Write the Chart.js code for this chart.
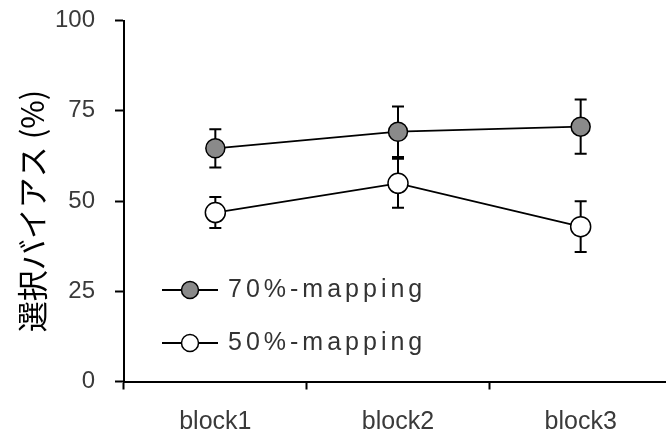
<!DOCTYPE html>
<html>
<head>
<meta charset="utf-8">
<script src="https://cdn.jsdelivr.net/npm/chart.js@4/dist/chart.umd.min.js"></script>
<style>
  html, body { margin: 0; padding: 0; background: #fff; overflow: hidden; }
  #wrap { width: 666px; height: 439px; overflow: hidden; position: relative; }
  canvas { display: block; }
</style>
</head>
<body>
<div id="wrap"><canvas id="c" width="672" height="439" style="width:672px;height:439px"></canvas></div>
<script>
const categories = ['block1', 'block2', 'block3'];
const series70 = [64.6, 69.2, 70.6];
const err70 = [5.3, 7.0, 7.5];
const series50 = [46.8, 54.9, 42.9];
const err50 = [4.3, 6.8, 7.0];
const yTickValues = [0, 25, 50, 75, 100];
const seriesNames = ['70%-mapping', '50%-mapping'];
const yTitle = '選択バイアス (%)';

const errors = [err70, err50];

const errorBarPlugin = {
  id: 'errorBars',
  beforeDatasetsDraw(chart) {
    const ctx = chart.ctx;
    const yScale = chart.scales.y;
    ctx.save();
    ctx.strokeStyle = '#000';
    ctx.lineWidth = 2;
    chart.data.datasets.forEach((ds, di) => {
      const meta = chart.getDatasetMeta(di);
      meta.data.forEach((pt, i) => {
        const v = ds.data[i];
        const e = errors[di][i];
        const yt = yScale.getPixelForValue(v + e);
        const yb = yScale.getPixelForValue(v - e);
        const x = pt.x;
        ctx.beginPath();
        ctx.moveTo(x, yt); ctx.lineTo(x, yb);
        ctx.moveTo(x - 6, yt); ctx.lineTo(x + 6, yt);
        ctx.moveTo(x - 6, yb); ctx.lineTo(x + 6, yb);
        ctx.stroke();
      });
    });
    ctx.restore();
  }
};

const extrasPlugin = {
  id: 'extras',
  afterDraw(chart) {
    const ctx = chart.ctx;
    ctx.save();
    ctx.translate(32, 211);
    ctx.rotate(-Math.PI / 2);
    ctx.fillStyle = '#000';
    ctx.font = '31px "Noto Sans CJK JP"';
    ctx.textAlign = 'center';
    ctx.textBaseline = 'middle';
    ctx.fillText(yTitle, 0, 0);
    ctx.restore();

    const items = [
      { y: 290, fill: '#8a8a8a' },
      { y: 343, fill: '#ffffff' }
    ];
    items.forEach((it, k) => {
      ctx.save();
      ctx.strokeStyle = '#000';
      ctx.lineWidth = 1.8;
      ctx.beginPath();
      ctx.moveTo(162, it.y); ctx.lineTo(218, it.y);
      ctx.stroke();
      ctx.beginPath();
      ctx.arc(190, it.y, 8.5, 0, Math.PI * 2);
      ctx.fillStyle = it.fill;
      ctx.fill();
      ctx.lineWidth = 1.5;
      ctx.stroke();
      ctx.fillStyle = '#333';
      ctx.font = '25px "Liberation Sans", Arial, sans-serif';
      try { ctx.letterSpacing = '4px'; } catch (e) {}
      ctx.textAlign = 'left';
      ctx.textBaseline = 'middle';
      ctx.fillText(seriesNames[k], 228, it.y);
      ctx.restore();
    });
  }
};

new Chart(document.getElementById('c'), {
  type: 'line',
  data: {
    labels: categories,
    datasets: [
      {
        label: seriesNames[0],
        data: series70,
        borderColor: '#000',
        borderWidth: 1.8,
        backgroundColor: '#8a8a8a',
        pointBackgroundColor: '#8a8a8a',
        pointBorderColor: '#000',
        pointBorderWidth: 1.5,
        pointRadius: 9.5,
        tension: 0
      },
      {
        label: seriesNames[1],
        data: series50,
        borderColor: '#000',
        borderWidth: 1.8,
        backgroundColor: '#fff',
        pointBackgroundColor: '#fff',
        pointBorderColor: '#000',
        pointBorderWidth: 1.5,
        pointRadius: 10,
        tension: 0
      }
    ]
  },
  options: {
    responsive: false,
    devicePixelRatio: 1,
    animation: false,
    events: [],
    layout: { autoPadding: false, padding: { top: 20.5, left: 0, right: 0, bottom: 0 } },
    plugins: { legend: { display: false }, tooltip: { enabled: false } },
    scales: {
      x: {
        type: 'category',
        offset: true,
        grid: {
          offset: true,
          drawOnChartArea: false,
          drawTicks: true,
          tickLength: 8,
          color: '#000',
          tickWidth: 2
        },
        border: { display: true, color: '#000', width: 2 },
        ticks: {
          color: '#3a3a3a',
          padding: 18,
          font: { family: '"Liberation Sans", Arial, sans-serif', size: 25 }
        },
        afterFit(scale) {
          scale.height = 57.5;
          scale.paddingLeft = 0;
          scale.paddingRight = 0;
        }
      },
      y: {
        min: 0,
        max: 100,
        afterBuildTicks(scale) { scale.ticks = yTickValues.map(v => ({ value: v })); },
        grid: {
          drawOnChartArea: false,
          drawTicks: true,
          tickLength: 9,
          color: '#000',
          tickWidth: 2
        },
        border: { display: true, color: '#000', width: 2 },
        ticks: {
          color: '#3a3a3a',
          padding: 20,
          font: { family: '"Liberation Sans", Arial, sans-serif', size: 24 }
        },
        afterFit(scale) {
          scale.width = 124;
          scale.paddingTop = 0;
          scale.paddingBottom = 0;
        }
      }
    }
  },
  plugins: [errorBarPlugin, extrasPlugin]
});
</script>
</body>
</html>
